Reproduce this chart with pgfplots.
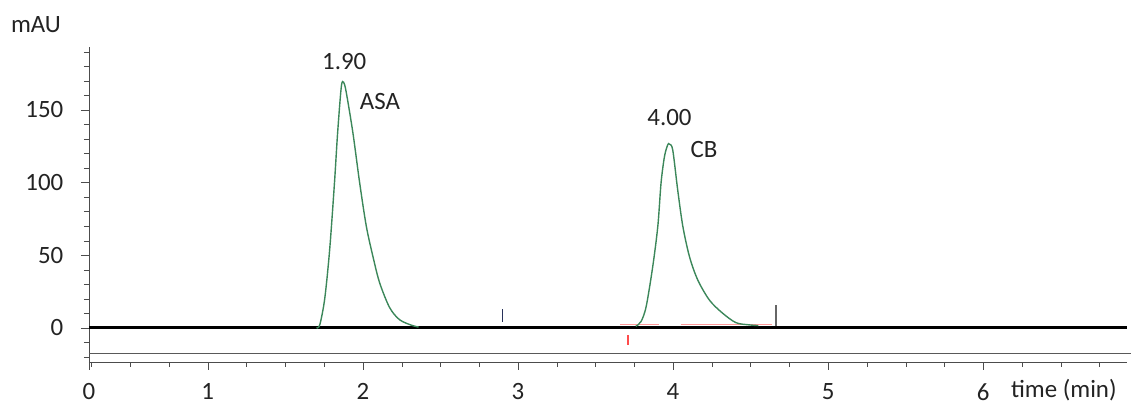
\documentclass[border=0pt]{standalone}
\usepackage{pgfplots}
\pgfplotsset{compat=1.18}
\usepackage{fontspec}
\setmainfont{Carlito}
\definecolor{peak}{RGB}{60,135,90}
\definecolor{txt}{RGB}{35,35,35}
\definecolor{mk}{RGB}{40,50,90}

\begin{document}
\begin{tikzpicture}[x=1bp,y=1bp]
\begin{axis}[
  scale only axis,
  width=1039bp, height=314.4bp,
  xmin=0.233, xmax=6.93,
  ymin=-23.4, ymax=193,
  clip=false,
  axis x line=bottom, axis y line=left,
  axis line style={-, thin, gray!60!black},
  xtick={0.233,1,2,3,4,5,6},
  xticklabels={0,1,2,3,4,5,6},
  minor xtick={0.25,0.5,...,6.75},
  ytick={0,50,100,150},
  minor ytick={-20,-10,...,190},
  tick align=outside,
  major tick length=8bp, minor tick length=5bp,
  tick style={gray!60!black},
  /pgf/number format/assume math mode=true,
  tick label style={font=\fontsize{25}{30}\selectfont, text=txt},
  xticklabel style={yshift=-10bp},
  yticklabel style={anchor=east, xshift=-14bp},
]
% frame of the original image
\path (axis cs:-0.340,-57.8) rectangle (axis cs:6.947,225.7);

% baseline and the second trace line
\addplot[black, line width=2.6bp] coordinates {(0.233,0) (6.93,0)};
\addplot[gray!70!black, line width=1bp] coordinates {(0.233,-18) (6.95,-18)};

% baseline markers
\addplot[red!40, line width=1bp] coordinates {(3.66,2) (3.91,2)};
\addplot[red!40, line width=1bp] coordinates {(4.05,2) (4.64,2)};
\addplot[mk, line width=1.8bp] coordinates {(2.90,4) (2.90,13)};
\addplot[gray!80!black, line width=1.5bp] coordinates {(4.664,1) (4.664,16)};
\addplot[red!70, line width=1.5bp] coordinates {(3.71,-5) (3.71,-12)};

% ASA peak
\addplot[peak, line width=1.4bp, smooth] coordinates {
 (1.70,0) (1.722,2) (1.754,20) (1.786,54) (1.817,100) (1.837,134)
 (1.861,166) (1.876,169) (1.893,162) (1.936,134) (1.979,100)
 (2.022,70) (2.065,49) (2.108,31) (2.172,14) (2.237,5.5) (2.32,1.5) (2.36,0.5)};

% CB peak
\addplot[peak, line width=1.4bp, smooth] coordinates {
 (3.76,1) (3.794,4.3) (3.827,14.7) (3.869,42) (3.902,70) (3.923,100)
 (3.945,118) (3.966,126) (3.977,126.4) (3.998,122.5) (4.03,95)
 (4.063,70) (4.106,49) (4.159,33) (4.235,19) (4.32,10) (4.406,3.5)
 (4.49,2) (4.55,1.5)};

\begin{scope}[every node/.style={font=\fontsize{25}{30}\selectfont, text=txt}]
\node at (axis cs:1.88,183) {1.90};
\node at (axis cs:2.11,155.5) {ASA};
\node at (axis cs:3.977,144.5) {4.00};
\node at (axis cs:4.20,122.5) {CB};
\node at (axis cs:-0.108,209) {mAU};
\node at (axis cs:6.52,-42.7) {time (min)};
\end{scope}
\end{axis}
\end{tikzpicture}
\end{document}
